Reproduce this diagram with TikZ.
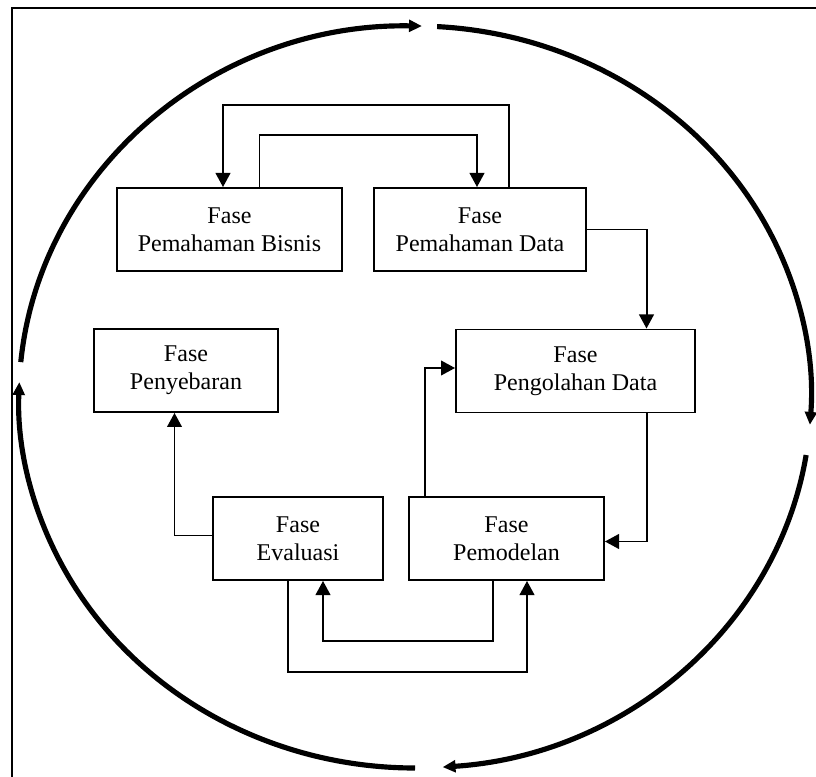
\documentclass[tikz,border=0pt]{standalone}
\usepackage{fontspec}
\setmainfont{Liberation Serif}
\usetikzlibrary{arrows.meta,calc}

\tikzset{
  fase/.style={draw=black,line width=1.6pt,rectangle,align=center,minimum height=2.49cm,
    font=\fontsize{20.5}{24}\selectfont},
  link/.style={draw=black,line width=1.7pt,-{Triangle[length=12pt,width=12.5pt]}},
  siklus/.style={draw=black,line width=4.4pt,-{Triangle[length=11pt,width=10pt]}}
}

\begin{document}
\begin{tikzpicture}[x=0.03cm,y=0.03cm]
           \useasboundingbox (0,0) rectangle (816,776);
           \draw[line width=1.7pt] (12.3,-5) |- (830,767.7);
           % lingkaran proses
           \coordinate (pusat) at (415,379);
           \foreach \a/\b in {174.6/89, 86.8/-4.3, -9/-86, -90/-182.3}
             \draw[siklus] ($(pusat)+(\a:396 and 371)$) arc[start angle=\a, end angle=\b, x radius=396, y radius=371];
           % fase-fase
           \node[fase,minimum width=6.75cm] (bisnis) at (229.5,546.5) {Fase\\Pemahaman Bisnis};
           \node[fase,minimum width=6.36cm] (data) at (480,546.5) {Fase\\Pemahaman Data};
           \node[fase,minimum width=7.17cm] (olah) at (575.5,405) {Fase\\Pengolahan Data};
           \node[fase,minimum width=5.52cm] (sebar) at (186,405.5) {Fase\\Penyebaran};
           \node[fase,minimum width=5.1cm] (eval) at (298,237.5) {Fase\\Evaluasi};
           \node[fase,minimum width=5.85cm] (model) at (506.5,237.5) {Fase\\Pemodelan};
           % hubungan antar fase
           \draw[link] ($(data.north)+(29,0)$) -- ++(0,82) -| ($(bisnis.north)+(-6.5,0)$);
           \draw[link] ($(bisnis.north)+(30,0)$) -- ++(0,52) -| ($(data.north)+(-3,0)$);
           \draw[link] (data.east) -| ($(olah.north)+(71,0)$);
           \draw[link] ($(olah.south)+(71,0)$) |- ($(model.east)+(0,-3)$);
           \draw[link] ($(model.north)+(-81.5,0)$) |- ($(olah.west)+(0,3)$);
           \draw[link] ($(eval.west)+(0,3)$) -| ($(sebar.south)+(-11.5,0)$);
           \draw[link] ($(eval.south)+(-10,0)$) -- ++(0,-91) -| ($(model.south)+(20.5,0)$);
           \draw[link] ($(model.south)+(-14,0)$) -- ++(0,-60) -| ($(eval.south)+(25,0)$);
        \end{tikzpicture}
\end{document}
